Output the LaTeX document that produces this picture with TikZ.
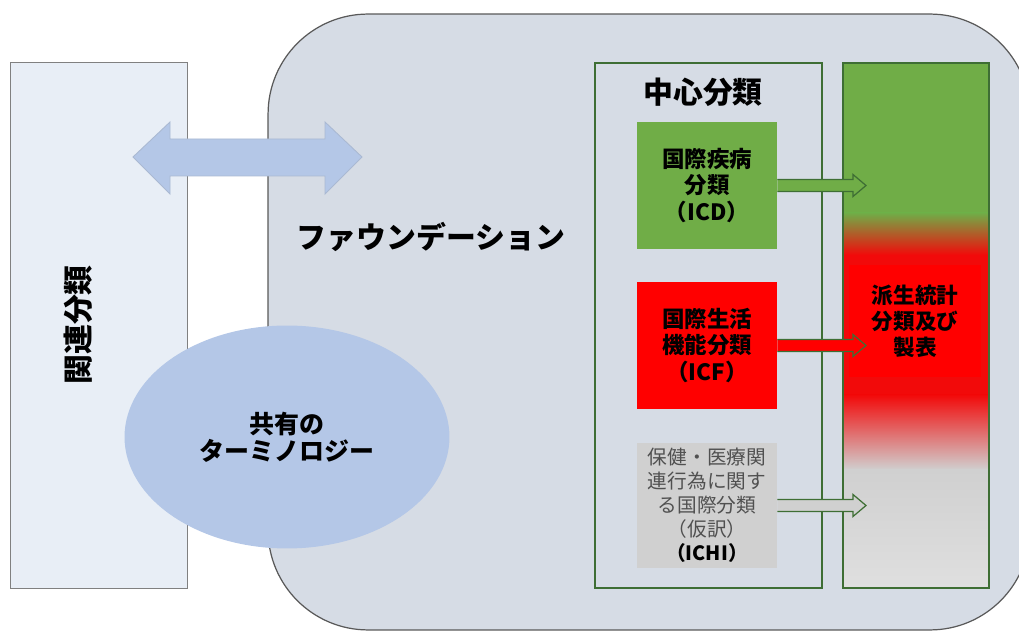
\documentclass[tikz,border=0pt]{standalone}
\usepackage{fontspec}
\setmainfont{Noto Sans CJK JP}
\usetikzlibrary{calc,shapes.geometric}
\definecolor{icdgreen}{RGB}{112,173,71}
\definecolor{framegreen}{RGB}{62,110,52}
\definecolor{foundgray}{RGB}{214,220,229}
\definecolor{relblue}{RGB}{232,238,246}
\definecolor{termblue}{RGB}{180,199,231}
\definecolor{ichigray}{RGB}{208,208,208}
\definecolor{textgray}{RGB}{80,80,80}
\definecolor{derivedred}{RGB}{242,10,10}

\newcommand{\fatarrow}[2]{%
  \draw[framegreen, fill=#2, line width=0.7pt]
    ($(#1.east)+(0,-6)$) -- ($(dtip |- #1.east)+(-13,-6)$) -- ($(dtip |- #1.east)+(-13,-11)$)
    -- (dtip |- #1.east) -- ($(dtip |- #1.east)+(-13,11)$) -- ($(dtip |- #1.east)+(-13,6)$)
    -- ($(#1.east)+(0,6)$);}

\begin{document}
\begin{tikzpicture}[x=0.02cm, y=-0.02cm,
    classbox/.style={minimum width=2.8cm, minimum height=2.54cm, inner sep=0pt, align=center,
      font=\bfseries\fontsize{12.8}{15.3}\selectfont},
    column/.style={draw=framegreen, line width=0.7pt, minimum height=10.5cm, inner sep=0pt},
    biglabel/.style={font=\bfseries\fontsize{17}{20}\selectfont}]
    \useasboundingbox (0,0) rectangle (1019,631);
    \clip (0,0) rectangle (1019,631);

    % related classifications
    \node[draw=gray, fill=relblue, minimum width=3.54cm, minimum height=10.52cm, inner sep=0pt] (related) at (98.5,325) {};
    \node[biglabel, rotate=90] (relatedlabel) at (78,325) {関連分類};

    % foundation
    \node[draw=black!65, fill=foundgray, line width=0.7pt, rounded corners=2cm,
      minimum width=15.24cm, minimum height=12.32cm, inner sep=0pt] (foundation) at (649,322) {};
    \node[biglabel] (foundlabel) at (431,237) {ファウンデーション};

    % link between related and foundation
    \draw[termblue!80!gray, fill=termblue, line width=0.5pt]
      (133,157) -- (170,122) -- (170,139) -- (325,139) -- (325,122) -- (362,157)
      -- (325,194) -- (325,176) -- (170,176) -- (170,194) -- cycle;

    % shared terminology
    \node[ellipse, fill=termblue, minimum width=6.5cm, minimum height=4.46cm, inner sep=0pt, align=center,
      font=\bfseries\fontsize{14.2}{15.3}\selectfont] (terms) at (287,437) {共有の\\ターミノロジー};

    % reference classifications
    \node[column, minimum width=4.54cm] (core) at (708.5,325.5) {};
    \node[biglabel] (corelabel) at (703,92) {中心分類};

    % derived column, top to bottom
    \fill[icdgreen] (843,63) rectangle (989,213);
    \shade[top color=icdgreen, bottom color=derivedred] (843,213) rectangle (989,255);
    \fill[derivedred] (843,255) rectangle (989,395);
    \shade[top color=derivedred, bottom color=ichigray] (843,395) rectangle (989,470);
    \shade[top color=ichigray, bottom color=gray!25] (843,470) rectangle (989,588);
    \node[fill=red, minimum width=2.64cm, minimum height=2.24cm, inner sep=0pt, align=center,
      font=\bfseries\fontsize{12.3}{14.7}\selectfont] (derived) at (915,321) {派生統計\\分類及び\\製表};
    \node[column, minimum width=2.92cm] (derivedcol) at (916,325.5) {};

    % classification boxes
    \node[classbox, fill=icdgreen] (icd) at (707,185.5) {国際疾病\\分類\\（ICD）};
    \node[classbox, fill=red] (icf) at (707,345.5) {国際生活\\機能分類\\（ICF）};
    \node[classbox, fill=ichigray, minimum height=2.5cm, text=textgray,
      font=\fontsize{11.2}{13.6}\selectfont] (ichi) at (707,505.5)
      {保健・医療関\\連行為に関す\\る国際分類\\（仮訳）\\{\bfseries\color{black}（ICHI）}};

    % arrows into derived column
    \coordinate (dtip) at (866,0);
    \fatarrow{icd}{icdgreen}
    \fatarrow{icf}{red}
    \fatarrow{ichi}{ichigray}
\end{tikzpicture}
\end{document}
